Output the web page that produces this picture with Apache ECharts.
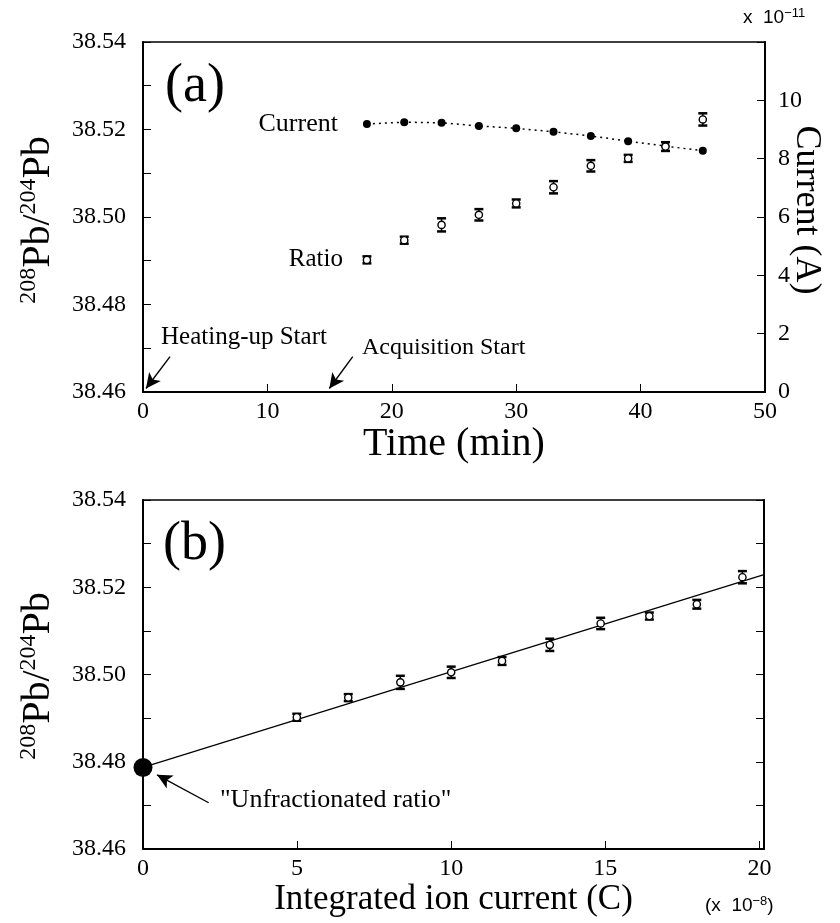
<!DOCTYPE html>
<html>
<head>
<meta charset="utf-8">
<script src="https://cdn.jsdelivr.net/npm/echarts@6/dist/echarts.min.js"></script>
<style>
  html, body { margin: 0; padding: 0; background: #fff; }
  #chart { width: 840px; height: 923px; }
</style>
</head>
<body>
<div id="chart"></div>
<script>
'use strict';

// acquisition times (min)
const times = [18, 21, 24, 27, 30, 33, 36, 39, 42, 45]
// ion current (x 1e-11 A)
const current = [9.19, 9.25, 9.23, 9.12, 9.04, 8.92, 8.78, 8.60, 8.43, 8.27]
// 208Pb/204Pb and its error
const ratio = [38.4902, 38.4947, 38.4982, 38.5005, 38.5031, 38.5068, 38.5117, 38.5134, 38.5161, 38.5223]
const ratioErr = [0.0008, 0.0008, 0.0015, 0.0013, 0.0009, 0.0014, 0.0013, 0.0008, 0.0010, 0.0014]
// integrated ion current (x 1e-8 C)
const integrated = [4.99, 6.66, 8.35, 10.0, 11.65, 13.2, 14.85, 16.43, 17.97, 19.45]
// regression line, first point is the "unfractionated ratio"
const fitX = [0, 20.15]
const fitY = [38.4787, 38.5229]
// arrows: [fromX, fromY, toX, toY]
const arrowsA = [[2.17, 38.4681, 0.24, 38.4608], [16.86, 38.4681, 14.98, 38.4608]]
const arrowB = [2.13, 38.4706, 0.455, 38.4770]

const SERIF = '"Liberation Serif", "Times New Roman", serif'
const SANS = '"Liberation Sans", Arial, sans-serif'
const BLACK = '#000'
const TICK_FONT = 24

const container = document.getElementById('chart')
const myChart = echarts.init(container)

// error bar + open circle
const errorBar = (labelText) => (params, api) => {
    const x = api.value(0), y = api.value(1), e = api.value(2)
    const p = api.coord([x, y])
    const hi = api.coord([x, y + e])
    const lo = api.coord([x, y - e])
    const w = 4.5
    const children = [
        { type: 'line', shape: { x1: p[0], y1: hi[1], x2: p[0], y2: lo[1] }, style: { stroke: BLACK, lineWidth: 1.5 } },
        { type: 'line', shape: { x1: p[0] - w, y1: hi[1], x2: p[0] + w, y2: hi[1] }, style: { stroke: BLACK, lineWidth: 2.5 } },
        { type: 'line', shape: { x1: p[0] - w, y1: lo[1], x2: p[0] + w, y2: lo[1] }, style: { stroke: BLACK, lineWidth: 2.5 } },
        { type: 'circle', shape: { cx: p[0], cy: p[1], r: 3.6 }, style: { fill: '#fff', stroke: BLACK, lineWidth: 1.4 } }
    ]
    if (labelText && params.dataIndex === 0) {
        children.push({
            type: 'text', x: p[0] - 24, y: p[1],
            style: { text: labelText, align: 'right', verticalAlign: 'middle', font: '25px ' + SERIF, fill: BLACK }
        })
    }
    return { type: 'group', children: children }
}

const ratioFormatter = v => (Math.round(v * 100) % 2 === 0 ? v.toFixed(2) : '')

const valueAxis = (extra) => Object.assign({
    type: 'value',
    axisLine: { onZero: false, lineStyle: { color: BLACK, width: 2 } },
    axisTick: { inside: true, length: 8, lineStyle: { color: BLACK, width: 1 } },
    axisLabel: { color: BLACK, fontSize: TICK_FONT, fontFamily: SERIF },
    splitLine: { show: false }
}, extra)

const arrowMarkLine = (list) => ({
    silent: true,
    animation: false,
    symbol: ['none', 'arrow'],
    symbolSize: [11, 15],
    lineStyle: { color: BLACK, width: 1.4, type: 'solid' },
    label: { show: false },
    emphasis: { disabled: true },
    data: list.map(a => [{ coord: [a[0], a[1]] }, { coord: [a[2], a[3]] }])
})

const yTitle = (cx, cy) => ({
    type: 'text', x: cx, y: cy, rotation: Math.PI / 2,
    style: {
        text: '{s|208}{m|Pb/}{s|204}{m|Pb}',
        align: 'center', verticalAlign: 'middle', fill: BLACK,
        rich: {
            m: { fontSize: 40, fontFamily: SERIF, lineHeight: 42 },
            s: { fontSize: 24, fontFamily: SERIF, verticalAlign: 'top', lineHeight: 23 }
        }
    }
})

const option = {
    animation: false,
    backgroundColor: '#fff',
    grid: [
        { left: 143, top: 42, width: 622, height: 350, show: true, borderColor: BLACK, borderWidth: 1.5 },
        { left: 143, top: 500, width: 621, height: 349, show: true, borderColor: BLACK, borderWidth: 1.5 }
    ],
    xAxis: [
        valueAxis({
            gridIndex: 0, min: 0, max: 50, interval: 10,
            axisLabel: { color: BLACK, fontSize: TICK_FONT, fontFamily: SERIF, margin: 8 },
            name: 'Time (min)', nameLocation: 'middle', nameGap: 32,
            nameTextStyle: { color: BLACK, fontSize: 40, fontFamily: SERIF }
        }),
        valueAxis({
            gridIndex: 1, min: 0, max: 20.15, interval: 5,
            axisLabel: { color: BLACK, fontSize: TICK_FONT, fontFamily: SERIF, margin: 8, formatter: v => (v % 5 === 0 ? String(v) : '') },
            name: 'Integrated ion current (C)', nameLocation: 'middle', nameGap: 33,
            nameTextStyle: { color: BLACK, fontSize: 35, fontFamily: SERIF }
        })
    ],
    yAxis: [
        valueAxis({
            gridIndex: 0, position: 'left', min: 38.46, max: 38.54, interval: 0.01,
            axisLabel: { color: BLACK, fontSize: TICK_FONT, fontFamily: SERIF, margin: 17, formatter: ratioFormatter }
        }),
        valueAxis({
            gridIndex: 0, position: 'right', min: 0, max: 12, interval: 2,
            axisLabel: { color: BLACK, fontSize: TICK_FONT, fontFamily: SERIF, margin: 13, formatter: v => (v === 12 ? '' : String(v)) }
        }),
        valueAxis({
            gridIndex: 1, position: 'left', min: 38.46, max: 38.54, interval: 0.01,
            axisLabel: { color: BLACK, fontSize: TICK_FONT, fontFamily: SERIF, margin: 17, formatter: ratioFormatter }
        }),
        valueAxis({
            gridIndex: 1, position: 'right', min: 38.46, max: 38.54, interval: 0.01,
            axisLabel: { show: false }
        })
    ],
    series: [
        {
            name: 'Current',
            type: 'line',
            xAxisIndex: 0, yAxisIndex: 1,
            symbol: 'circle', symbolSize: 8,
            itemStyle: { color: BLACK },
            lineStyle: { color: BLACK, width: 1.5, type: [2, 4] },
            data: times.map((t, i) => i === 0 ? {
                value: [t, current[i]],
                label: { show: true, position: 'left', distance: 25, formatter: 'Current', color: BLACK, fontSize: 26, fontFamily: SERIF }
            } : [t, current[i]]),
            z: 3
        },
        {
            name: 'Ratio',
            type: 'custom',
            xAxisIndex: 0, yAxisIndex: 0,
            renderItem: errorBar('Ratio'),
            data: times.map((t, i) => [t, ratio[i], ratioErr[i]]),
            z: 4
        },
        {
            name: 'arrowsA',
            type: 'scatter',
            xAxisIndex: 0, yAxisIndex: 0,
            data: [],
            markLine: arrowMarkLine(arrowsA)
        },
        {
            name: 'Fit',
            type: 'line',
            xAxisIndex: 1, yAxisIndex: 2,
            symbol: 'none',
            lineStyle: { color: BLACK, width: 1.2 },
            data: fitX.map((x, i) => [x, fitY[i]]),
            z: 2
        },
        {
            name: 'Ratio b',
            type: 'custom',
            xAxisIndex: 1, yAxisIndex: 2,
            renderItem: errorBar(null),
            data: integrated.map((x, i) => [x, ratio[i], ratioErr[i]]),
            z: 4
        },
        {
            name: 'Unfractionated',
            type: 'scatter',
            xAxisIndex: 1, yAxisIndex: 2,
            symbol: 'circle', symbolSize: 19,
            clip: false,
            itemStyle: { color: BLACK, opacity: 1 },
            data: [[fitX[0], fitY[0]]],
            markLine: arrowMarkLine([arrowB]),
            z: 5
        }
    ],
    graphic: [
        { type: 'text', x: 165, y: 87, style: { text: '(a)', align: 'left', verticalAlign: 'middle', font: '54px ' + SERIF, fill: BLACK } },
        { type: 'text', x: 163, y: 545, style: { text: '(b)', align: 'left', verticalAlign: 'middle', font: '54px ' + SERIF, fill: BLACK } },
        { type: 'text', x: 161, y: 337, style: { text: 'Heating-up Start', align: 'left', verticalAlign: 'middle', font: '25px ' + SERIF, fill: BLACK } },
        { type: 'text', x: 362, y: 348, style: { text: 'Acquisition Start', align: 'left', verticalAlign: 'middle', font: '24px ' + SERIF, fill: BLACK } },
        { type: 'text', x: 220, y: 800, style: { text: '"Unfractionated ratio"', align: 'left', verticalAlign: 'middle', font: '26px ' + SERIF, fill: BLACK } },
        yTitle(38, 220),
        yTitle(38, 676),
        {
            type: 'text', x: 806, y: 210, rotation: -Math.PI / 2,
            style: { text: 'Current (A)', align: 'center', verticalAlign: 'middle', font: '36px ' + SERIF, fill: BLACK }
        },
        {
            type: 'text', x: 743, y: 18,
            style: {
                text: '{n|x  10}{s|−11}', align: 'left', verticalAlign: 'middle', fill: BLACK,
                rich: {
                    n: { fontSize: 19, fontFamily: SANS, lineHeight: 22 },
                    s: { fontSize: 13, fontFamily: SANS, verticalAlign: 'top', lineHeight: 14 }
                }
            }
        },
        {
            type: 'text', x: 705, y: 906,
            style: {
                text: '{n|(x  10}{s|−8}{n|)}', align: 'left', verticalAlign: 'middle', fill: BLACK,
                rich: {
                    n: { fontSize: 19, fontFamily: SANS, lineHeight: 22 },
                    s: { fontSize: 13, fontFamily: SANS, verticalAlign: 'top', lineHeight: 14 }
                }
            }
        }
    ]
}

myChart.setOption(option)
</script>
</body>
</html>
